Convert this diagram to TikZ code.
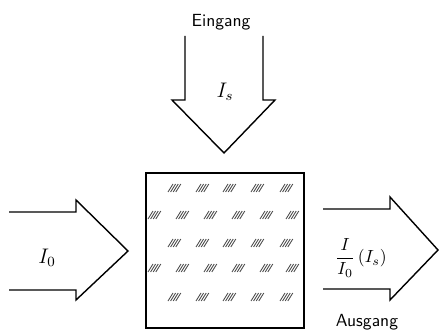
\documentclass[tikz,border=0pt]{standalone}
\usepackage{amsmath,amsfonts,amssymb}
\usepackage{tikz}

\begin{document}
\begin{tikzpicture}[x=0.02cm, y=-0.02cm, line width=0.8pt]

	\useasboundingbox (0,0) rectangle (439,334);

	% Sample box
	\draw[line width=1.2pt] (146,173) rectangle (304,328);

	% Hatching inside the box
	\foreach \y in {188,243,297}
		\foreach \x in {175,203,230,258,287}
			\foreach \i in {0,1,2,3}
				\draw[line width=0.5pt,gray!60!black] (\x-7+2.6*\i,\y+4) -- (\x-2+2.6*\i,\y-4);
	\foreach \y in {215,268}
		\foreach \x in {155,183,211,239,267,293}
			\foreach \i in {0,1,2,3}
				\draw[line width=0.5pt,gray!60!black] (\x-7+2.6*\i,\y+4) -- (\x-2+2.6*\i,\y-4);

	% Input arrow (top)
	\draw (185,36) -- (185,100) -- (172,100) -- (224,153) -- (275,100) -- (263,100) -- (263,36);
	\node (eingang) at (221,22) {\sffamily Eingang};
	\node (Is) at (225,92) {\large $I_s$};

	% Input arrow (left)
	\draw (9,212) -- (76,212) -- (76,200) -- (128,251) -- (76,300) -- (76,290) -- (9,290);
	\node (I0) at (47,258) {\large $I_0$};

	% Output arrow (right)
	\draw (323,209) -- (390,209) -- (390,197) -- (438,250) -- (390,300) -- (390,289) -- (323,289);
	\node (frac) at (361,258) {$\dfrac{I}{I_0}\,(I_s)$};
	\node (ausgang) at (367,322) {\sffamily Ausgang};

\end{tikzpicture}
\end{document}
